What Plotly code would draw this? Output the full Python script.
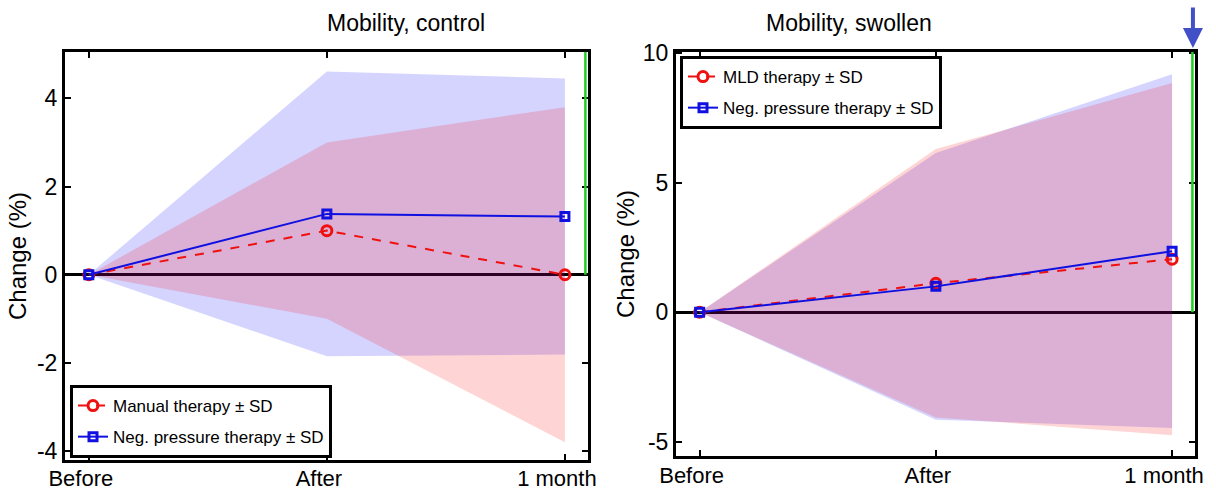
import plotly.graph_objects as go

# ---- data ----
timepoints = ["Before", "After", "1 month"]
xpos = [0, 1, 2]

# Left panel: Mobility, control
ctrl_manual_mean = [0.0, 1.0, 0.0]
ctrl_manual_sd = [0.0, 2.0, 3.8]
ctrl_neg_mean = [0.0, 1.38, 1.32]
ctrl_neg_sd = [0.0, 3.23, 3.13]

# Right panel: Mobility, swollen
sw_mld_mean = [0.0, 1.12, 2.05]
sw_mld_sd = [0.0, 5.18, 6.8]
sw_neg_mean = [0.0, 1.0, 2.36]
sw_neg_sd = [0.0, 5.15, 6.83]

left_yticks = [-4, -2, 0, 2, 4]
left_yticktext = ["-4", "-2", "0", "2", "4"]
right_yticks = [-5, 0, 5, 10]
right_yticktext = ["-5", "0", "5", "10"]
left_yrange = [-4.2, 5.05]
right_yrange = [-5.55, 10.05]
xrange_ = [-0.1, 2.097]

RED = "#f01010"
BLUE = "#1010e0"
RED_FILL = "rgba(255,0,0,0.17)"
BLUE_FILL = "rgba(0,0,255,0.17)"
FONT = "Liberation Sans, Arial, sans-serif"

W, H = 1216, 490


def band(mean, sd):
    up = [m + s for m, s in zip(mean, sd)]
    lo = [m - s for m, s in zip(mean, sd)]
    return xpos + xpos[::-1], up + lo[::-1]


fig = go.Figure()

panels = [
    dict(xa="x", ya="y", leg="legend",
         series=[("Manual therapy ± SD", ctrl_manual_mean, ctrl_manual_sd, RED, RED_FILL, "dash", "circle-open", 10),
                 ("Neg. pressure therapy ± SD", ctrl_neg_mean, ctrl_neg_sd, BLUE, BLUE_FILL, "solid", "square-open", 8)]),
    dict(xa="x2", ya="y2", leg="legend2",
         series=[("MLD therapy ± SD", sw_mld_mean, sw_mld_sd, RED, RED_FILL, "dash", "circle-open", 10),
                 ("Neg. pressure therapy ± SD", sw_neg_mean, sw_neg_sd, BLUE, BLUE_FILL, "solid", "square-open", 8)]),
]

for p in panels:
    # bands: blue first then red
    for name, m, s, col, fcol, dash, sym, msz in reversed(p["series"]):
        bx, by = band(m, s)
        fig.add_trace(go.Scatter(x=bx, y=by, fill="toself", fillcolor=fcol, mode="none",
                                 line=dict(width=0), showlegend=False, hoverinfo="skip",
                                 xaxis=p["xa"], yaxis=p["ya"]))
    for i, (name, m, s, col, fcol, dash, sym, msz) in enumerate(p["series"]):
        fig.add_trace(go.Scatter(x=xpos, y=m, mode="lines+markers", name=name,
                                 line=dict(color=col, width=2, dash=dash),
                                 marker=dict(symbol=sym, size=msz, color=col, line=dict(width=3, color=col)),
                                 legend=p["leg"], legendgroup=p["leg"] + str(i),
                                 xaxis=p["xa"], yaxis=p["ya"]))

axis_common = dict(showline=True, linecolor="black", linewidth=3, mirror="ticks",
                   ticks="inside", ticklen=6, tickwidth=2, tickcolor="black",
                   showgrid=False, automargin=False)

xfont = dict(family=FONT, size=22, color="black")
yfont = dict(family=FONT, size=23, color="black")
ytitle_font = dict(family=FONT, size=24, color="black")

fig.update_layout(
    width=W, height=H,
    margin=dict(l=0, r=0, t=0, b=0, autoexpand=False),
    paper_bgcolor="white", plot_bgcolor="white",
    font=dict(family=FONT, color="black"),
    xaxis=dict(domain=[65 / W, 588 / W], range=xrange_, tickvals=xpos, ticktext=timepoints,
               zeroline=False, anchor="y", ticklabelshift=-8, ticklabelstandoff=-3,
               tickfont=xfont, **axis_common),
    yaxis=dict(domain=[(H - 460) / H, (H - 52) / H], range=left_yrange, tickvals=left_yticks,
               ticktext=left_yticktext, tickfont=yfont,
               zeroline=True, zerolinecolor="black", zerolinewidth=3, anchor="x",
               title=dict(text="Change (%)", font=ytitle_font, standoff=4),
               **axis_common),
    xaxis2=dict(domain=[676 / W, 1195 / W], range=xrange_, tickvals=xpos, ticktext=timepoints,
                zeroline=False, anchor="y2", ticklabelshift=-8, ticklabelstandoff=-2,
                tickfont=xfont, **axis_common),
    yaxis2=dict(domain=[(H - 456) / H, (H - 52) / H], range=right_yrange, tickvals=right_yticks,
                ticktext=right_yticktext, tickfont=yfont,
                zeroline=True, zerolinecolor="black", zerolinewidth=3, anchor="x2",
                title=dict(text="Change (%)", font=ytitle_font, standoff=2),
                **axis_common),
    legend=dict(x=70 / W, y=(H - 385) / H, xanchor="left", yanchor="top",
                bgcolor="white", bordercolor="black", borderwidth=3,
                font=dict(family=FONT, size=17, color="black"),
                traceorder="grouped", tracegroupgap=6, itemwidth=30),
    legend2=dict(x=680 / W, y=(H - 56) / H, xanchor="left", yanchor="top",
                 bgcolor="white", bordercolor="black", borderwidth=3,
                 font=dict(family=FONT, size=17, color="black"),
                 traceorder="grouped", tracegroupgap=6, itemwidth=30),
    showlegend=True,
)

# titles
fig.add_annotation(text="Mobility, control", xref="paper", yref="paper",
                   x=325 / W, y=(H - 23) / H, yanchor="middle", showarrow=False,
                   font=dict(family=FONT, size=23, color="black"))
fig.add_annotation(text="Mobility, swollen", xref="paper", yref="paper",
                   x=934 / W, y=(H - 23) / H, yanchor="middle", showarrow=False,
                   font=dict(family=FONT, size=23, color="black"))

# green markers along right edge, from zero to top
fig.add_shape(type="line", xref="x domain", yref="y", x0=0.995, x1=0.995, y0=0, y1=left_yrange[1],
              line=dict(color="#22cc22", width=2.5))
fig.add_shape(type="line", xref="x2 domain", yref="y2", x0=0.995, x1=0.995, y0=0, y1=right_yrange[1],
              line=dict(color="#22cc22", width=2.5))

# blue arrow above right panel
fig.add_annotation(xref="x2 domain", yref="paper", x=0.996, y=(H - 48) / H,
                   ax=0, ay=-42, showarrow=True, arrowhead=2, arrowsize=1, arrowwidth=4,
                   arrowcolor="#4250c8", text="")

fig.write_html("out.html")
